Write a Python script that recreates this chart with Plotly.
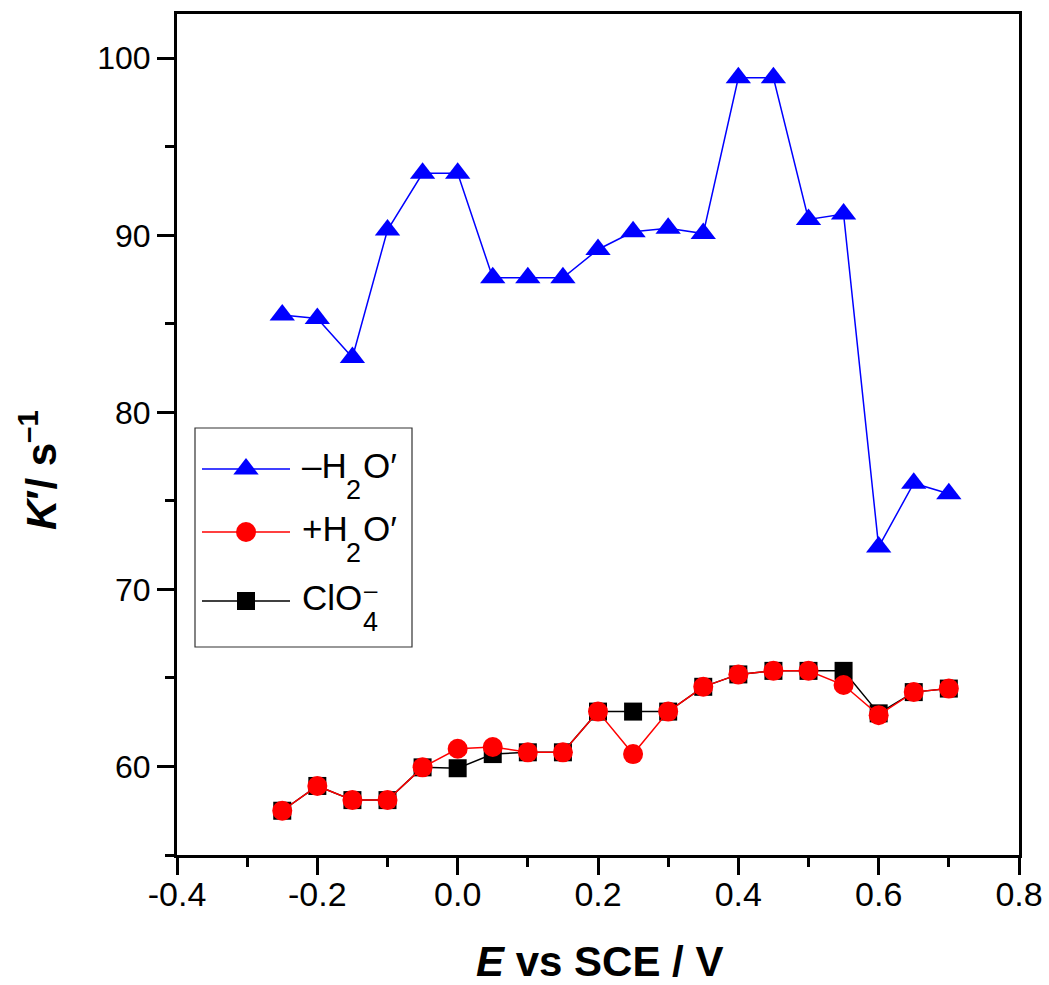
import plotly.graph_objects as go

# Electrode potential (V vs SCE)
potential = [-0.25, -0.20, -0.15, -0.10, -0.05, 0.00, 0.05, 0.10, 0.15, 0.20,
             0.25, 0.30, 0.35, 0.40, 0.45, 0.50, 0.55, 0.60, 0.65, 0.70]

# Rate constants K' (s^-1)
k_minus_water = [85.5, 85.3, 83.1, 90.3, 93.5, 93.5, 87.6, 87.6, 87.6, 89.2,
                 90.2, 90.4, 90.1, 98.9, 98.9, 90.9, 91.2, 72.4, 76.0, 75.4]
k_plus_water = [57.5, 58.9, 58.1, 58.1, 59.95, 61.0, 61.1, 60.8, 60.8, 63.1,
                60.7, 63.1, 64.5, 65.2, 65.4, 65.4, 64.6, 62.9, 64.2, 64.4]
k_perchlorate = [57.5, 58.9, 58.1, 58.1, 59.95, 59.9, 60.7, 60.8, 60.8, 63.1,
                 63.1, 63.1, 64.5, 65.2, 65.4, 65.4, 65.4, 63.0, 64.2, 64.4]

x_tick_vals = [-0.4, -0.2, 0.0, 0.2, 0.4, 0.6, 0.8]
x_tick_text = ["-0.4", "-0.2", "0.0", "0.2", "0.4", "0.6", "0.8"]
y_tick_vals = [60, 70, 80, 90, 100]
y_tick_text = ["60", "70", "80", "90", "100"]

FONT = "Liberation Sans, Arial, sans-serif"
W, H = 1049, 985
L, R, T, B = 177, 1019, 14, 855


def px(x):
    return (x - L) / (R - L)


def py(y):
    return (B - y) / (B - T)


fig = go.Figure()

fig.add_trace(go.Scatter(
    x=potential, y=k_minus_water, mode="lines+markers", name="-H2O'",
    line=dict(color="#0000ff", width=1.5),
    marker=dict(symbol="triangle-up", size=22, color="#0000ff"),
    showlegend=False,
))
fig.add_trace(go.Scatter(
    x=potential, y=k_perchlorate, mode="lines+markers", name="ClO4-",
    line=dict(color="#000000", width=1.5),
    marker=dict(symbol="square", size=18, color="#000000"),
    showlegend=False,
))
fig.add_trace(go.Scatter(
    x=potential, y=k_plus_water, mode="lines+markers", name="+H2O'",
    line=dict(color="#ff0000", width=1.5),
    marker=dict(symbol="circle", size=20, color="#ff0000"),
    showlegend=False,
))

# Hand-drawn legend: frame, line samples, symbols and labels
# (colour, symbol, size, row y [px], main text, subscript, tail text, superscript)
legend_items = [
    ("#0000ff", "triangle-up", 22, 469, "–H", "2", "O′", None),
    ("#ff0000", "circle", 20, 532, "+H", "2", "O′", None),
    ("#000000", "square", 18, 601, "ClO", "4", None, "–"),
]
shapes = [dict(type="rect", xref="paper", yref="paper",
               x0=px(195), x1=px(412), y0=py(647), y1=py(428),
               line=dict(color="#333333", width=1.2), fillcolor="white",
               layer="below")]
annotations = []


def label(x, y, text, size):
    annotations.append(dict(xref="paper", yref="paper", x=px(x), y=py(y),
                            xanchor="left", yanchor="middle", showarrow=False,
                            text=text,
                            font=dict(family=FONT, size=size, color="black")))


for color, sym, size, yy, main, sub, tail, sup in legend_items:
    shapes.append(dict(type="line", xref="paper", yref="paper",
                       x0=px(202), x1=px(290), y0=py(yy), y1=py(yy),
                       line=dict(color=color, width=1.5), layer="below"))
    fig.add_trace(go.Scatter(
        x=[px(246)], y=[py(yy)], mode="markers", xaxis="x2", yaxis="y2",
        marker=dict(symbol=sym, size=size, color=color),
        showlegend=False, hoverinfo="skip",
    ))
    cap_mid = yy - 4
    label(300, cap_mid, main, 35)
    sub_x = 344 if tail else 361
    label(sub_x, cap_mid + 25, sub, 27)
    if tail:
        label(361, cap_mid, tail, 35)
    if sup:
        label(362, cap_mid - 8, sup, 24)

# Axis titles
annotations.append(dict(xref="paper", yref="paper", x=px(599), y=py(962),
                        xanchor="center", yanchor="middle", showarrow=False,
                        text="<b><i>E</i> vs SCE / V</b>",
                        font=dict(family=FONT, size=42, color="black")))
annotations.append(dict(xref="paper", yref="paper", x=px(38), y=py(470),
                        xanchor="center", yanchor="middle", showarrow=False,
                        textangle=-90,
                        text="<b><i>K</i>′/ s<sup>–1</sup></b>",
                        font=dict(family=FONT, size=42, color="black")))

axis_common = dict(
    showline=True, linecolor="black", linewidth=3, mirror=True,
    showgrid=False, zeroline=False,
    ticks="outside", ticklen=17, tickwidth=3, tickcolor="black",
)

fig.update_layout(
    width=W, height=H,
    margin=dict(l=L, r=W - R, t=T, b=H - B),
    paper_bgcolor="white", plot_bgcolor="white",
    xaxis=dict(range=[-0.4, 0.8], tickvals=x_tick_vals, ticktext=x_tick_text,
               tickfont=dict(family=FONT, size=34, color="black"),
               ticklabelstandoff=-10, automargin=False,
               minor=dict(dtick=0.1, tick0=-0.4, ticks="outside", ticklen=9,
                          tickwidth=3, tickcolor="black"),
               **axis_common),
    yaxis=dict(range=[55, 102.5], tickvals=y_tick_vals, ticktext=y_tick_text,
               tickfont=dict(family=FONT, size=32, color="black"),
               automargin=False,
               minor=dict(dtick=5, tick0=55, ticks="outside", ticklen=9,
                          tickwidth=3, tickcolor="black"),
               **axis_common),
    xaxis2=dict(overlaying="x", range=[0, 1], visible=False),
    yaxis2=dict(overlaying="y", range=[0, 1], visible=False),
    shapes=shapes,
    annotations=annotations,
)

fig.write_html("out.html")
